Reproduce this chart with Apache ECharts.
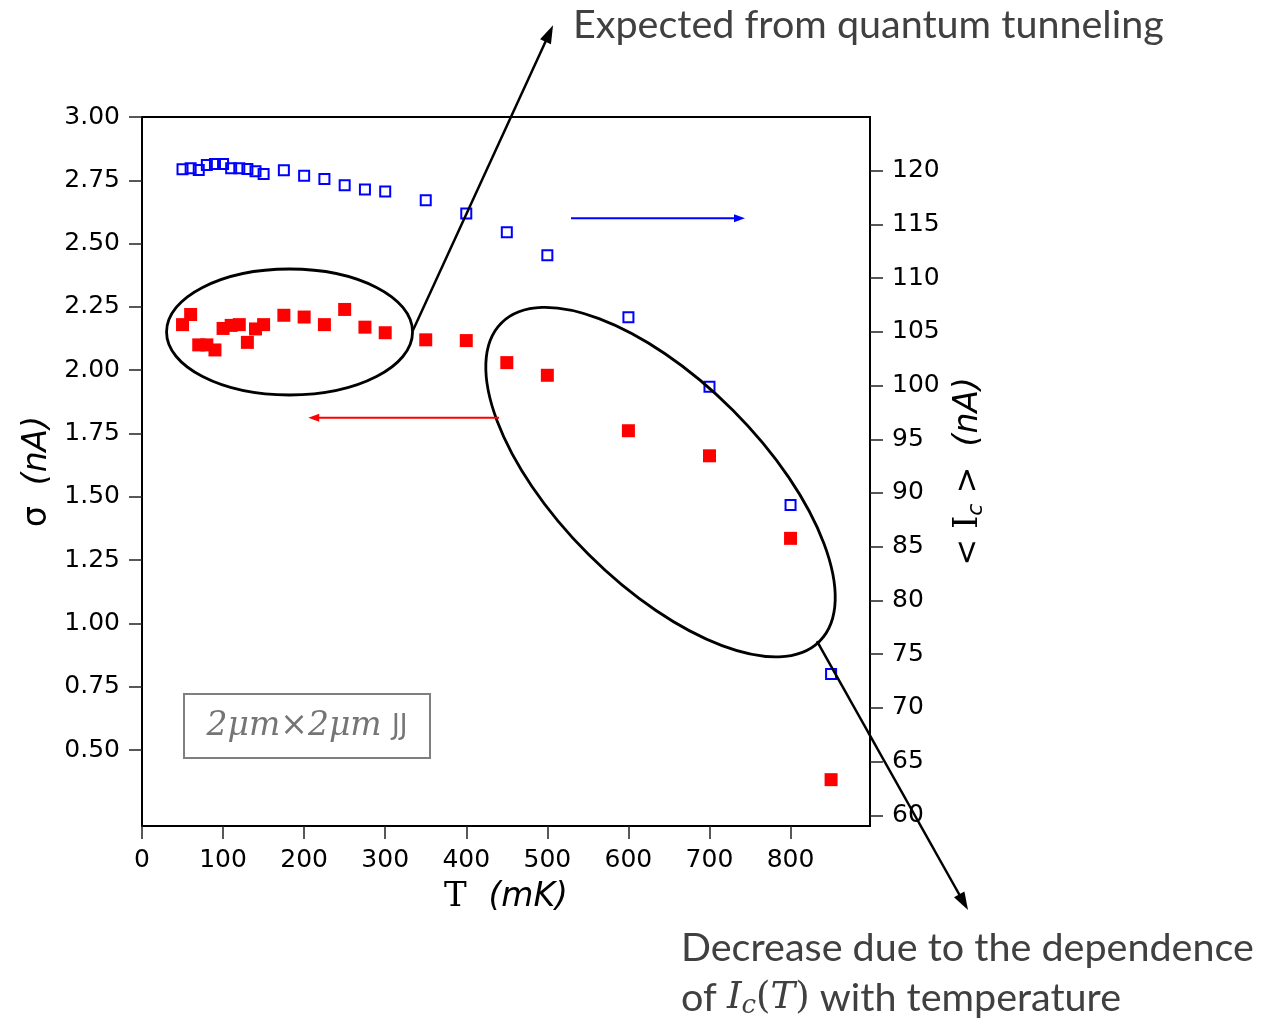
<!DOCTYPE html>
<html>
<head>
<meta charset="utf-8">
<script src="https://cdn.jsdelivr.net/npm/echarts@6/dist/echarts.min.js"></script>
<style>
    html, body { margin: 0; padding: 0; background: #fff; }
    #chart { width: 1284px; height: 1020px; }
</style>
</head>
<body>
<div id="chart"></div>
<script>
// temperature in mK, shared by both series
const temps = [50, 60, 70, 80, 90, 100, 110, 120, 130, 140, 150, 175, 200, 225, 250, 275, 300, 350, 400, 450, 500, 600, 700, 800, 850];
// sigma (nA), left axis, red filled squares
const sigma = [2.18, 2.22, 2.10, 2.10, 2.08, 2.165, 2.177, 2.18, 2.11, 2.163, 2.18, 2.217, 2.21, 2.18, 2.24, 2.17, 2.148, 2.12, 2.117, 2.03, 1.98, 1.761, 1.662, 1.336, 0.383];
// <Ic> (nA), right axis, blue open squares
const meanIc = [120.14, 120.23, 120.07, 120.54, 120.63, 120.63, 120.23, 120.23, 120.17, 119.94, 119.7, 120.04, 119.54, 119.23, 118.64, 118.24, 118.07, 117.25, 116.01, 114.27, 112.13, 106.37, 99.88, 88.88, 73.16];

const xTicks = [0, 100, 200, 300, 400, 500, 600, 700, 800];
const sigmaTicks = [0.5, 0.75, 1.0, 1.25, 1.5, 1.75, 2.0, 2.25, 2.5, 2.75, 3.0];
const icTicks = [60, 65, 70, 75, 80, 85, 90, 95, 100, 105, 110, 115, 120];

// annotation anchors in (T, sigma) data units
const tunnelEllipse = { t: 182, s: 2.151 };
const decreaseEllipse = { t: 639.6, s: 1.558 };
const tunnelArrow = { from: [334.3, 2.158], to: [507, 3.362] };
const decreaseArrow = { from: [832.6, 0.93], to: [1018.9, -0.132] };
const rightArrow = { from: [529.2, 2.6], to: [743.8, 2.6] };
const leftArrow = { from: [440.4, 1.8125], to: [205.1, 1.8125] };

const AXIS_FONT = "DejaVu Sans";
const NOTE_FONT = "Lato, 'Open Sans', sans-serif";
const TICK_SIZE = 25;

const chart = echarts.init(document.getElementById("chart"));

function axisBase(ticks, margin) {
    return {
        type: "value",
        axisLine: { show: true, onZero: false, lineStyle: { color: "#000", width: 2 } },
        axisTick: { show: true, inside: false, length: 13, customValues: ticks, lineStyle: { color: "#222", width: 1.5 } },
        axisLabel: { customValues: ticks, margin, color: "#000", fontSize: TICK_SIZE, fontFamily: AXIS_FONT },
        splitLine: { show: false },
    };
}

chart.setOption({
    animation: false,
    backgroundColor: "#fff",
    grid: { left: 142, right: 414, top: 117, bottom: 194, show: true, borderColor: "#000", borderWidth: 2 },
    xAxis: {
        ...axisBase(xTicks, 22),
        min: 0,
        max: 898,
        name: "{s|T  }{i|(mK)}",
        nameLocation: "middle",
        nameGap: 54,
        nameTextStyle: {
            rich: {
                s: { fontFamily: "DejaVu Serif", fontSize: 34, color: "#000" },
                i: { fontFamily: AXIS_FONT, fontStyle: "italic", fontSize: 33, color: "#000" },
            },
        },
    },
    yAxis: [
        {
            ...axisBase(sigmaTicks, 24),
            min: 0.2,
            max: 3.0,
            position: "left",
            axisLabel: { customValues: sigmaTicks, margin: 22, color: "#000", fontSize: TICK_SIZE, fontFamily: AXIS_FONT, formatter: (v) => v.toFixed(2) },
            name: "{g|σ  }{i|(nA)}",
            nameLocation: "middle",
            nameRotate: 90,
            nameGap: 88,
            nameTextStyle: {
                rich: {
                    g: { fontFamily: AXIS_FONT, fontSize: 33, color: "#000" },
                    i: { fontFamily: AXIS_FONT, fontStyle: "italic", fontSize: 33, color: "#000" },
                },
            },
        },
        {
            ...axisBase(icTicks, 22),
            min: 59,
            max: 125,
            position: "right",
            name: "{t|< }{s|I}{sub|c}{t| >  }{i|(nA)}",
            nameLocation: "middle",
            nameRotate: 90,
            nameGap: 80,
            nameTextStyle: {
                rich: {
                    t: { fontFamily: AXIS_FONT, fontSize: 32, color: "#000" },
                    s: { fontFamily: "DejaVu Serif", fontSize: 33, color: "#000" },
                    sub: { fontFamily: AXIS_FONT, fontStyle: "italic", fontSize: 22, color: "#000", padding: [15, 0, 0, 0] },
                    i: { fontFamily: AXIS_FONT, fontStyle: "italic", fontSize: 33, color: "#000" },
                },
            },
        },
    ],
    series: [
        {
            name: "Ic",
            type: "scatter",
            yAxisIndex: 1,
            symbol: "rect",
            symbolSize: 10,
            itemStyle: { color: "rgba(0,0,0,0)", borderColor: "#0000ff", borderWidth: 2, opacity: 1 },
            data: temps.map((t, i) => [t, meanIc[i]]),
        },
        {
            name: "sigma",
            type: "scatter",
            yAxisIndex: 0,
            symbol: "rect",
            symbolSize: 13,
            itemStyle: { color: "#ff0000", opacity: 1 },
            data: temps.map((t, i) => [t, sigma[i]]),
        },
    ],
});

function px(p) {
    return chart.convertToPixel({ seriesIndex: 1 }, p);
}

function arrow(a, color, width, headLen, headW) {
    const [x1, y1] = px(a.from);
    const [x2, y2] = px(a.to);
    const ang = Math.atan2(y2 - y1, x2 - x1);
    const c = Math.cos(ang), s = Math.sin(ang);
    const bx = x2 - headLen * c, by = y2 - headLen * s;
    const nx = (-s * headW) / 2, ny = (c * headW) / 2;
    return [
        { type: "line", z: 100, shape: { x1, y1, x2: bx + c, y2: by + s }, style: { stroke: color, lineWidth: width } },
        { type: "polygon", z: 100, shape: { points: [[x2, y2], [bx + nx, by + ny], [bx - nx, by - ny]] }, style: { fill: color } },
    ];
}

function ellipse(center, rx, ry, rotation) {
    const [x, y] = px([center.t, center.s]);
    return { type: "ellipse", z: 100, x, y, rotation, shape: { cx: 0, cy: 0, rx, ry }, style: { fill: "none", stroke: "#000", lineWidth: 2.8 } };
}

const graphics = [
    ellipse(tunnelEllipse, 123, 63, 0),
    ellipse(decreaseEllipse, 225, 102, -Math.PI / 4),
    ...arrow(tunnelArrow, "#000", 2.5, 18, 12),
    ...arrow(decreaseArrow, "#000", 2.5, 18, 12),
    ...arrow(rightArrow, "#0000ff", 2, 11, 8),
    ...arrow(leftArrow, "#ff0000", 2, 11, 8),
    { type: "rect", z: 100, shape: { x: 184, y: 694, width: 246, height: 64 }, style: { fill: "none", stroke: "#7f7f7f", lineWidth: 2 } },
    {
        type: "text", z: 100, x: 307, y: 726,
        style: {
            text: "{m|2μm×2μm }{j|JJ}",
            align: "center", verticalAlign: "middle",
            rich: {
                m: { fontFamily: "DejaVu Serif", fontStyle: "italic", fontSize: 33, fill: "#757575" },
                j: { fontFamily: "DejaVu Sans Condensed", fontSize: 29, fill: "#757575" },
            },
        },
    },
    {
        type: "text", z: 100, x: 573, y: 25,
        style: { text: "Expected from quantum tunneling", fontFamily: NOTE_FONT, fontSize: 39.5, fill: "#404040", verticalAlign: "middle" },
    },
    {
        type: "text", z: 100, x: 681, y: 948,
        style: { text: "Decrease due to the dependence", fontFamily: NOTE_FONT, fontSize: 39.5, fill: "#404040", verticalAlign: "middle" },
    },
    {
        type: "text", z: 100, x: 681, y: 998,
        style: {
            text: "{n|of }{i|I}{sub|c}{s|(}{i|T}{s|)}{n| with temperature}",
            verticalAlign: "middle",
            rich: {
                n: { fontFamily: NOTE_FONT, fontSize: 39.5, fill: "#404040" },
                i: { fontFamily: "DejaVu Serif", fontStyle: "italic", fontSize: 37, fill: "#404040" },
                s: { fontFamily: "DejaVu Serif", fontSize: 37, fill: "#404040" },
                sub: { fontFamily: "DejaVu Serif", fontStyle: "italic", fontSize: 26, fill: "#404040", padding: [17, 0, 0, 0] },
            },
        },
    },
];

chart.setOption({ graphic: graphics });
</script>
</body>
</html>
